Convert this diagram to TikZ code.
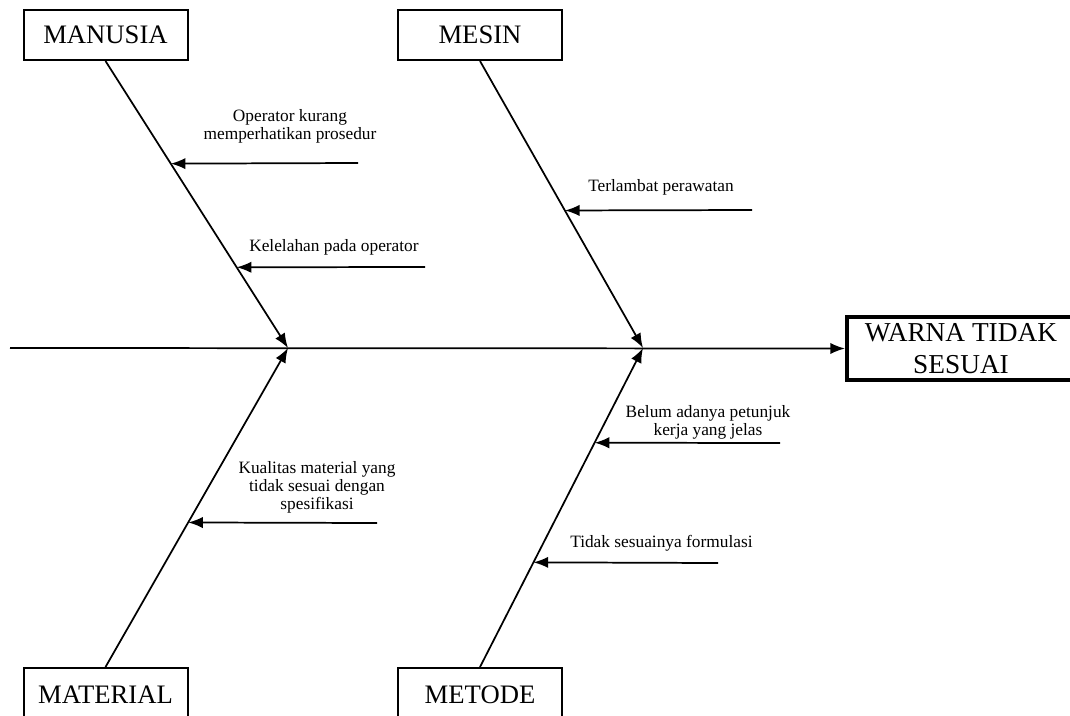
\documentclass[tikz,border=0pt]{standalone}
\usepackage{fontspec}
\setmainfont{Liberation Serif}
\usetikzlibrary{arrows.meta,calc}
\tikzset{
  cat/.style={draw, line width=1.5pt, minimum width=123pt, minimum height=37.5pt,
    inner sep=0pt, font=\fontsize{20}{22}\selectfont},
  effect/.style={draw, line width=3pt, minimum width=171pt, minimum height=47pt,
    inner sep=0pt, align=center, font=\fontsize{20.5}{24}\selectfont},
  bone/.style={line width=1.3pt, -{Latex[length=11pt,width=8.5pt]}},
  cause/.style={font=\fontsize{13}{13.5}\selectfont, align=center, inner sep=0pt},
}
\begin{document}
\begin{tikzpicture}[x=0.75pt, y=-0.75pt]
\useasboundingbox (0,0) rectangle (1070,715);
\clip (0,0) rectangle (1070,715);

% category boxes
\node[cat] (manusia)  at (105.5,35)  {MANUSIA};
\node[cat] (mesin)    at (480,35)    {MESIN};
\node[cat, minimum height=42.75pt] (material) at (105.5,696.5) {\raisebox{3pt}{MATERIAL}};
\node[cat, minimum height=42.75pt] (metode)   at (480,696.5)   {\raisebox{3pt}{METODE}};

% effect box
\node[effect] (effect) at (961,348.5) {WARNA TIDAK\\SESUAI};

% junctions on the spine
\coordinate (j1) at (288,348);
\coordinate (j2) at (643,348);
\coordinate (tail) at (10,348);

% spine
\draw[bone] (tail) -- (effect.west);

% main bones
\draw[bone] (manusia.south) -- (j1);
\draw[bone] (material.north) -- (j1);
\draw[bone] (mesin.south) -- (j2);
\draw[bone] (metode.north) -- (j2);

% cause arrows: start points and their ends on the bones
\coordinate (a1s) at (358,163);
\coordinate (a1e) at ($(manusia.south)!0.3576!(j1)$);
\coordinate (a2s) at (425,267);
\coordinate (a2e) at ($(manusia.south)!0.7187!(j1)$);
\coordinate (b1s) at (752,210);
\coordinate (b1e) at ($(mesin.south)!0.5208!(j2)$);
\coordinate (c1s) at (780,443);
\coordinate (c1e) at ($(j2)!0.2969!(metode.north)$);
\coordinate (c2s) at (718,563);
\coordinate (c2e) at ($(j2)!0.6719!(metode.north)$);
\coordinate (d1s) at (377,523);
\coordinate (d1e) at ($(j1)!0.5469!(material.north)$);

\draw[bone] (a1s) -- (a1e);
\draw[bone] (a2s) -- (a2e);
\draw[bone] (b1s) -- (b1e);
\draw[bone] (c1s) -- (c1e);
\draw[bone] (c2s) -- (c2e);
\draw[bone] (d1s) -- (d1e);

% cause labels
\node[cause] (t1) at (290,126) {Operator kurang\\memperhatikan prosedur};
\node[cause, anchor=west] (t2) at (249,247) {Kelelahan pada operator};
\node[cause, anchor=west] (t3) at (588,187) {Terlambat perawatan};
\node[cause] (t4) at (708,422) {Belum adanya petunjuk\\kerja yang jelas};
\node[cause, anchor=west] (t5) at (570,543) {Tidak sesuainya formulasi};
\node[cause] (t6) at (317,487) {Kualitas material yang\\tidak sesuai dengan\\spesifikasi};
\end{tikzpicture}
\end{document}
